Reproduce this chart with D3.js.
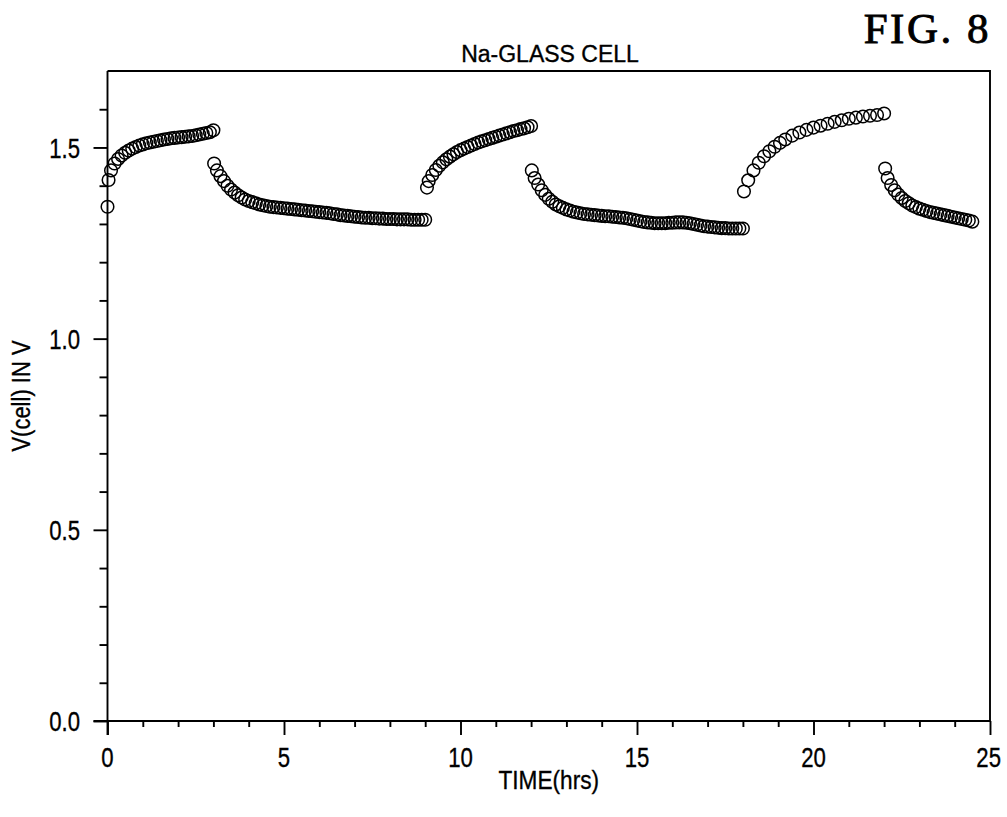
<!DOCTYPE html>
<html>
<head>
<meta charset="utf-8">
<script src="https://cdn.jsdelivr.net/npm/d3@7"></script>
<style>
  html, body { margin: 0; padding: 0; background: #fff; }
  svg { display: block; }
  text { fill: #000; stroke: #000; stroke-width: 0.35; }
</style>
</head>
<body>
<svg id="chart" width="1007" height="817"></svg>
<script>
// Cell voltage during alternating charge / discharge steps of a Na-glass cell.
// Each step is kept as its own pair of arrays: time (hours) and voltage (V).

const charge1Time = [0.00, 0.03, 0.10, 0.20, 0.30, 0.40, 0.50, 0.60, 0.70, 0.80, 0.90, 1.00, 1.10, 1.20, 1.30, 1.40, 1.50, 1.60, 1.70, 1.80, 1.90, 2.00, 2.10, 2.20, 2.30, 2.40, 2.50, 2.60, 2.70, 2.80, 2.90, 3.00];
const charge1Volt = [1.345, 1.415, 1.440, 1.458, 1.470, 1.479, 1.486, 1.492, 1.497, 1.501, 1.505, 1.508, 1.511, 1.513, 1.515, 1.517, 1.519, 1.521, 1.522, 1.524, 1.525, 1.526, 1.527, 1.528, 1.529, 1.530, 1.532, 1.534, 1.536, 1.538, 1.540, 1.545];

const discharge1Time = [3.02, 3.10, 3.20, 3.30, 3.40, 3.50, 3.60, 3.70, 3.80, 3.90, 4.00, 4.10, 4.20, 4.30, 4.40, 4.50, 4.60, 4.70, 4.80, 4.90, 5.00, 5.10, 5.20, 5.30, 5.40, 5.50, 5.60, 5.70, 5.80, 5.90, 6.00, 6.10, 6.20, 6.30, 6.40, 6.50, 6.60, 6.70, 6.80, 6.90, 7.00, 7.10, 7.20, 7.30, 7.40, 7.50, 7.60, 7.70, 7.80, 7.90, 8.00, 8.10, 8.20, 8.30, 8.40, 8.50, 8.60, 8.70, 8.80, 8.90, 9.00];
const discharge1Volt = [1.458, 1.440, 1.425, 1.412, 1.400, 1.390, 1.382, 1.375, 1.369, 1.364, 1.360, 1.357, 1.354, 1.351, 1.349, 1.347, 1.345, 1.344, 1.343, 1.342, 1.341, 1.340, 1.339, 1.338, 1.337, 1.336, 1.335, 1.334, 1.333, 1.332, 1.331, 1.330, 1.329, 1.328, 1.326, 1.325, 1.323, 1.322, 1.321, 1.320, 1.319, 1.318, 1.317, 1.316, 1.316, 1.315, 1.315, 1.314, 1.314, 1.313, 1.313, 1.313, 1.312, 1.312, 1.312, 1.312, 1.311, 1.311, 1.311, 1.311, 1.311];

const charge2Time = [9.05, 9.10, 9.20, 9.30, 9.40, 9.50, 9.60, 9.70, 9.80, 9.90, 10.00, 10.10, 10.20, 10.30, 10.40, 10.50, 10.60, 10.70, 10.80, 10.90, 11.00, 11.10, 11.20, 11.30, 11.40, 11.50, 11.60, 11.70, 11.80, 11.90, 12.00];
const charge2Volt = [1.395, 1.412, 1.428, 1.441, 1.452, 1.461, 1.469, 1.476, 1.482, 1.488, 1.493, 1.497, 1.501, 1.505, 1.509, 1.513, 1.516, 1.519, 1.522, 1.525, 1.528, 1.531, 1.534, 1.537, 1.540, 1.543, 1.545, 1.548, 1.550, 1.553, 1.556];

const discharge2Time = [12.02, 12.10, 12.20, 12.30, 12.40, 12.50, 12.60, 12.70, 12.80, 12.90, 13.00, 13.10, 13.20, 13.30, 13.40, 13.50, 13.60, 13.70, 13.80, 13.90, 14.00, 14.10, 14.20, 14.30, 14.40, 14.50, 14.60, 14.70, 14.80, 14.90, 15.00, 15.10, 15.20, 15.30, 15.40, 15.50, 15.60, 15.70, 15.80, 15.90, 16.00, 16.10, 16.20, 16.30, 16.40, 16.50, 16.60, 16.70, 16.80, 16.90, 17.00, 17.10, 17.20, 17.30, 17.40, 17.50, 17.60, 17.70, 17.80, 17.90, 18.00];
const discharge2Volt = [1.440, 1.420, 1.403, 1.388, 1.376, 1.366, 1.358, 1.351, 1.346, 1.342, 1.338, 1.335, 1.332, 1.330, 1.328, 1.326, 1.325, 1.324, 1.323, 1.322, 1.321, 1.320, 1.320, 1.319, 1.318, 1.317, 1.316, 1.315, 1.313, 1.311, 1.309, 1.307, 1.305, 1.304, 1.303, 1.302, 1.302, 1.302, 1.302, 1.303, 1.303, 1.304, 1.304, 1.304, 1.303, 1.302, 1.300, 1.298, 1.296, 1.294, 1.293, 1.292, 1.291, 1.290, 1.289, 1.289, 1.288, 1.288, 1.288, 1.288, 1.288];

const charge3Time = [18.03, 18.15, 18.30, 18.45, 18.60, 18.75, 18.90, 19.05, 19.20, 19.40, 19.60, 19.80, 20.00, 20.20, 20.40, 20.60, 20.80, 21.00, 21.20, 21.40, 21.60, 21.80, 22.00];
const charge3Volt = [1.385, 1.414, 1.440, 1.460, 1.477, 1.490, 1.502, 1.512, 1.521, 1.531, 1.539, 1.546, 1.552, 1.557, 1.562, 1.567, 1.571, 1.575, 1.578, 1.581, 1.583, 1.585, 1.589];

const discharge3Time = [22.03, 22.10, 22.20, 22.30, 22.40, 22.50, 22.60, 22.70, 22.80, 22.90, 23.00, 23.10, 23.20, 23.30, 23.40, 23.50, 23.60, 23.70, 23.80, 23.90, 24.00, 24.10, 24.20, 24.30, 24.40, 24.50];
const discharge3Volt = [1.445, 1.420, 1.402, 1.388, 1.377, 1.368, 1.360, 1.354, 1.348, 1.344, 1.340, 1.337, 1.334, 1.331, 1.329, 1.327, 1.325, 1.323, 1.321, 1.319, 1.317, 1.315, 1.313, 1.311, 1.309, 1.306];

const xMajorTicks = [0, 5, 10, 15, 20, 25];
const yMajorTicks = [0.0, 0.5, 1.0, 1.5];

const titleText = "Na-GLASS CELL";
const figureLabel = "FIG. 8";
const xTitle = "TIME(hrs)";
const yTitle = "V(cell) IN V";

(function draw() {
  const steps = [
    [charge1Time, charge1Volt],
    [discharge1Time, discharge1Volt],
    [charge2Time, charge2Volt],
    [discharge2Time, discharge2Volt],
    [charge3Time, charge3Volt],
    [discharge3Time, discharge3Volt]
  ];
  const points = steps.flatMap(([t, v]) => t.map((ti, i) => ({ t: ti, v: v[i] })));

  // plot area edges
  const pL = 107.5, pR = 990, pT = 71, pB = 721;
  const W = 1007;
  const svg = d3.select("#chart");
  const font = "'Liberation Sans', Arial, sans-serif";

  const x = d3.scaleLinear().domain([0, 25]).range([pL, pR]);
  const y = d3.scaleLinear().domain([0, 1.7]).range([pB, pT]);

  // squeeze a text element horizontally for the narrow lettering
  function narrow(sel, factor) {
    sel.each(function () {
      const len = this.getComputedTextLength();
      d3.select(this).attr("textLength", len * factor).attr("lengthAdjust", "spacingAndGlyphs");
    });
  }

  // frame: top and right edges
  svg.append("path")
    .attr("d", `M${pL},${pT}H${pR}V${pB}`)
    .attr("fill", "none").attr("stroke", "#000").attr("stroke-width", 1.9);

  // x axis: minor tick every hour, long tick every 5 h
  const xAxis = d3.axisBottom(x)
    .tickValues(d3.range(0, 26, 1))
    .tickSize(6)
    .tickFormat(() => "");
  const gx = svg.append("g").attr("transform", `translate(0,${pB})`).call(xAxis);
  gx.selectAll(".tick line").filter(d => xMajorTicks.includes(d)).attr("y2", 14);
  gx.select(".domain").attr("d", `M${pL - 14},0H${pR}`);
  gx.selectAll("line, path").attr("stroke", "#000").attr("stroke-width", 1.9);

  const xLabels = svg.append("g").selectAll("text").data(xMajorTicks).join("text")
    .attr("x", d => x(d)).attr("y", 767)
    .attr("text-anchor", "middle")
    .attr("font-family", font).attr("font-size", 27)
    .text(d => d3.format("d")(d));
  narrow(xLabels, 0.82);
  // keep the last label inside the page
  xLabels.each(function () {
    const half = this.getComputedTextLength() / 2;
    const cx = +this.getAttribute("x");
    if (cx + half > W - 6) d3.select(this).attr("x", W - 6 - half);
  });

  // y axis: minor tick every 0.1 V, long tick every 0.5 V
  const yAxis = d3.axisLeft(y)
    .tickValues(d3.range(0, 17).map(i => i / 10))
    .tickSize(8)
    .tickFormat(() => "");
  const gy = svg.append("g").attr("transform", `translate(${pL},0)`).call(yAxis);
  gy.selectAll(".tick line").filter(d => yMajorTicks.some(m => Math.abs(m - d) < 1e-9)).attr("x2", -14);
  gy.select(".domain").attr("d", `M0,${pT}V${pB + 14}`);
  gy.selectAll("line, path").attr("stroke", "#000").attr("stroke-width", 1.9);

  const yLabels = svg.append("g").selectAll("text").data(yMajorTicks).join("text")
    .attr("x", 80).attr("y", d => y(d))
    .attr("dy", "0.36em")
    .attr("text-anchor", "end")
    .attr("font-family", font).attr("font-size", 28)
    .text(d => d3.format(".1f")(d));
  narrow(yLabels, 0.79);

  // titles
  svg.append("text")
    .attr("x", 550).attr("y", 62)
    .attr("text-anchor", "middle")
    .attr("font-family", font).attr("font-size", 23)
    .text(titleText);

  svg.append("text")
    .attr("x", 991).attr("y", 43)
    .attr("text-anchor", "end")
    .attr("font-family", "'Liberation Serif', 'Times New Roman', serif")
    .attr("font-size", 43)
    .attr("letter-spacing", 2.5)
    .style("stroke-width", 0.9)
    .text(figureLabel);

  const xt = svg.append("text")
    .attr("x", (pL + pR) / 2).attr("y", 789)
    .attr("text-anchor", "middle")
    .attr("font-family", font).attr("font-size", 26)
    .text(xTitle);
  narrow(xt, 0.87);

  const yt = svg.append("text")
    .attr("transform", `translate(30,${(pT + pB) / 2}) rotate(-90)`)
    .attr("text-anchor", "middle")
    .attr("font-family", font).attr("font-size", 25)
    .text(yTitle);
  narrow(yt, 0.88);

  // hollow circle markers
  svg.append("g").selectAll("circle").data(points).join("circle")
    .attr("cx", d => x(d.t))
    .attr("cy", d => y(d.v))
    .attr("r", 6.3)
    .attr("fill", "none")
    .attr("stroke", "#000")
    .attr("stroke-width", 1.5);
})();
</script>
</body>
</html>
